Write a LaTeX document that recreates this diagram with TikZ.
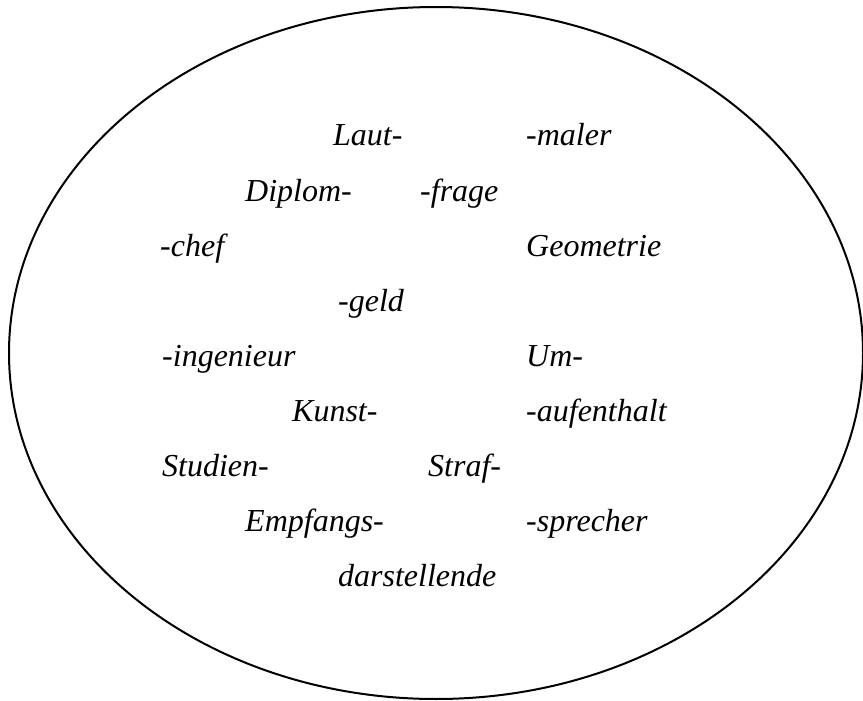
\documentclass[tikz,border=0pt]{standalone}
\usepackage{fontspec}
\setmainfont{Liberation Serif}
\begin{document}
\begin{tikzpicture}[x=1pt,y=-1pt,
    word/.style={anchor=base west, inner sep=0pt, font=\fontsize{32}{32}\selectfont\itshape}]
    \useasboundingbox (0,0) rectangle (863,701);

    \draw[line width=2pt] (436,353) ellipse (427 and 346);

    \foreach \name/\xx/\row/\txt in {
        laut/333/0/Laut-, maler/526/0/-maler,
        diplom/245/1/Diplom-, frage/420/1/-frage,
        chef/160/2/-chef, geometrie/526/2/Geometrie,
        geld/338/3/-geld,
        ingenieur/162/4/-ingenieur, um/526/4/Um-,
        kunst/292/5/Kunst-, aufenthalt/526/5/-aufenthalt,
        studien/162/6/Studien-, straf/428/6/Straf-,
        empfangs/245/7/Empfangs-, sprecher/526/7/-sprecher,
        darst/338/8/darstellende} {
        \pgfmathsetmacro{\yy}{146 + \row*55.1}
        \node[word] (\name) at (\xx,\yy) {\txt};
    }
\end{tikzpicture}
\end{document}
